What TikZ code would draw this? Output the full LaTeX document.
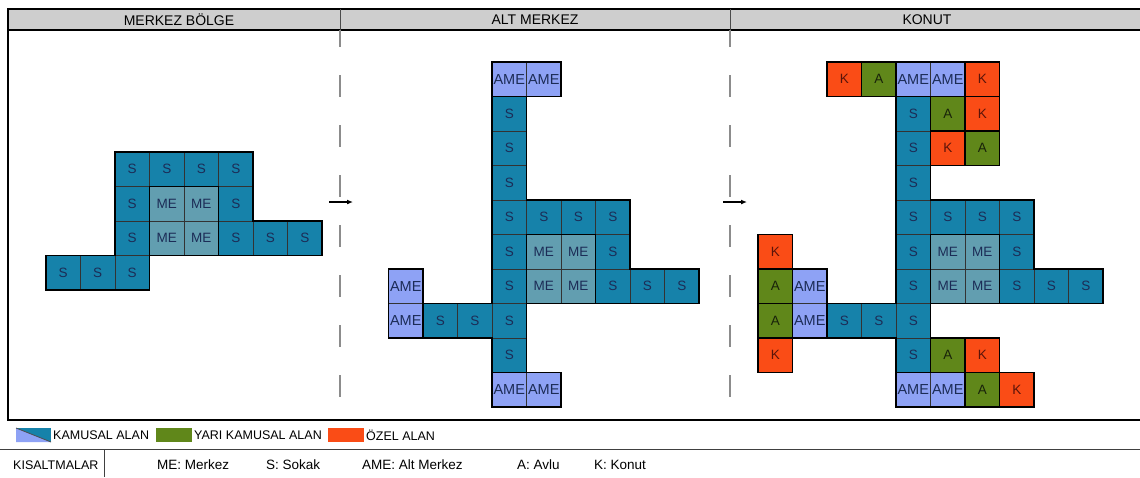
\documentclass[tikz,border=0pt]{standalone}
\usepackage{fontspec}
\setmainfont{Liberation Sans}
\setsansfont{Liberation Sans}
\usetikzlibrary{arrows.meta}
\definecolor{colS}{RGB}{22,130,170}
\definecolor{colME}{RGB}{98,158,176}
\definecolor{colAME}{RGB}{142,162,245}
\definecolor{colK}{RGB}{250,76,22}
\definecolor{colA}{RGB}{96,135,26}
\definecolor{hdrgray}{RGB}{206,206,206}
\definecolor{celltxt}{RGB}{28,44,86}
\definecolor{divgray}{RGB}{140,140,140}
\begin{document}
\begin{tikzpicture}[x=1pt,y=-1pt,
  cellbase/.style={draw=black!80, line width=0.5pt, minimum width=34.5pt, minimum height=34.5pt,
    inner sep=0pt, outer sep=0pt, anchor=center, text=celltxt, font=\fontsize{13.5}{14}\selectfont},
  cS/.style={cellbase, fill=colS},
  cME/.style={cellbase, fill=colME},
  cAME/.style={cellbase, fill=colAME, font=\fontsize{14.5}{15}\selectfont},
  cK/.style={cellbase, fill=colK, line width=1.6pt, draw=black, text={rgb,255:red,90;green,20;blue,10}},
  cA/.style={cellbase, fill=colA, line width=1.6pt, draw=black, text={rgb,255:red,25;green,35;blue,10}},
  outl/.style={draw=black, line width=1.8pt, line join=miter},
  hdrtxt/.style={font=\fontsize{14}{15}\selectfont, inner sep=0pt},
  legtxt/.style={font=\fontsize{12.5}{13}\selectfont, inner sep=0pt, anchor=west},
  abtxt/.style={font=\fontsize{13.5}{14}\selectfont, inner sep=0pt, anchor=west},
  divline/.style={draw=divgray, line width=1.2pt, dash pattern=on 22pt off 28pt, dash phase=5pt},
  arr/.style={-{Latex[length=6pt,width=5pt]}, line width=1.2pt, black}
]
\fill[white] (0,0) rectangle (1140,477);
\useasboundingbox (0,0) rectangle (1140,477);

% header band
\fill[hdrgray] (8,9) rectangle (1140,30);
\draw[line width=1.2pt] (8,9) -- (1140,9);
\draw[line width=1.2pt] (8,30) -- (1140,30);
\draw[line width=1.8pt] (8,8.4) -- (8,420);
\draw[line width=1.8pt] (7.1,420) -- (1140,420);
\draw[line width=0.8pt, draw=black!75] (0,449) -- (1140,449);
\draw[line width=0.6pt, draw=black!75] (104,449) -- (104,477);

% dividers
\draw[line width=1pt, draw=black!70] (340,9) -- (340,30);
\draw[line width=1pt, draw=black!70] (730,9) -- (730,30);
\draw[divline] (340,30) -- (340,420);
\draw[divline] (730,30) -- (730,420);

\node[hdrtxt] (h1) at (179,19.5) {MERKEZ BÖLGE};
\node[hdrtxt] (h2) at (535,19.5) {ALT MERKEZ};
\node[hdrtxt] (h3) at (927,19.5) {KONUT};

% arrows
\coordinate (a1s) at (329,202);
\coordinate (a1e) at (353,202);
\coordinate (a2s) at (723,202);
\coordinate (a2e) at (747,202);
\draw[arr] (a1s) -- (a1e);
\draw[arr] (a2s) -- (a2e);

% ---------- MERKEZ BOLGE ----------
\begin{scope}[shift={(115,152)}, x=34.5pt, y=-34.5pt]
  \foreach \r/\c/\t/\l in {0/0/cS/S,0/1/cS/S,0/2/cS/S,0/3/cS/S,
     1/0/cS/S,1/1/cME/ME,1/2/cME/ME,1/3/cS/S,
     2/0/cS/S,2/1/cME/ME,2/2/cME/ME,2/3/cS/S,2/4/cS/S,2/5/cS/S,
     3/-2/cS/S,3/-1/cS/S,3/0/cS/S}
    \node[\t] (L-\r-\c) at (\c+0.5,\r+0.5) {\l};
  \draw[outl] (0,0) -- (4,0) -- (4,2) -- (6,2) -- (6,3) -- (1,3) -- (1,4) -- (-2,4) -- (-2,3) -- (0,3) -- cycle;
  \draw[outl] (1,1) rectangle (3,3);
\end{scope}

% ---------- ALT MERKEZ ----------
\begin{scope}[shift={(492,62)}, x=34.5pt, y=-34.5pt]
  \foreach \r/\c/\t/\l in {0/0/cAME/AME,0/1/cAME/AME,
     1/0/cS/S,2/0/cS/S,3/0/cS/S,
     4/0/cS/S,4/1/cS/S,4/2/cS/S,4/3/cS/S,
     5/0/cS/S,5/1/cME/ME,5/2/cME/ME,5/3/cS/S,
     6/-3/cAME/AME,6/0/cS/S,6/1/cME/ME,6/2/cME/ME,6/3/cS/S,6/4/cS/S,6/5/cS/S,
     7/-3/cAME/AME,7/-2/cS/S,7/-1/cS/S,7/0/cS/S,
     8/0/cS/S,
     9/0/cAME/AME,9/1/cAME/AME}
    \node[\t] (M-\r-\c) at (\c+0.5,\r+0.5) {\l};
  \draw[outl] (0,1) -- (1,1) -- (1,4) -- (4,4) -- (4,6) -- (6,6) -- (6,7) -- (1,7) -- (1,9) -- (0,9) -- (0,8) -- (-2,8) -- (-2,7) -- (0,7) -- cycle;
  \draw[outl] (0,0) rectangle (2,1);
  \draw[outl] (-3,6) rectangle (-2,8);
  \draw[outl] (0,9) rectangle (2,10);
  \draw[outl] (1,5) rectangle (3,7);
\end{scope}

% ---------- KONUT ----------
\begin{scope}[shift={(896,62)}, x=34.5pt, y=-34.5pt]
  \foreach \r/\c/\t/\l in {0/0/cAME/AME,0/1/cAME/AME,
     1/0/cS/S,2/0/cS/S,3/0/cS/S,
     4/0/cS/S,4/1/cS/S,4/2/cS/S,4/3/cS/S,
     5/0/cS/S,5/1/cME/ME,5/2/cME/ME,5/3/cS/S,
     6/-3/cAME/AME,6/0/cS/S,6/1/cME/ME,6/2/cME/ME,6/3/cS/S,6/4/cS/S,6/5/cS/S,
     7/-3/cAME/AME,7/-2/cS/S,7/-1/cS/S,7/0/cS/S,
     8/0/cS/S,
     9/0/cAME/AME,9/1/cAME/AME}
    \node[\t] (R-\r-\c) at (\c+0.5,\r+0.5) {\l};
  \draw[outl] (0,1) -- (1,1) -- (1,4) -- (4,4) -- (4,6) -- (6,6) -- (6,7) -- (1,7) -- (1,9) -- (0,9) -- (0,8) -- (-2,8) -- (-2,7) -- (0,7) -- cycle;
  \draw[outl] (0,0) rectangle (2,1);
  \draw[outl] (-3,6) rectangle (-2,8);
  \draw[outl] (0,9) rectangle (2,10);
  \draw[outl] (1,5) rectangle (3,7);
  \foreach \r/\c/\t/\l in {0/-2/cK/K,0/-1/cA/A,0/2/cK/K,
     1/1/cA/A,1/2/cK/K,
     2/1/cK/K,2/2/cA/A,
     5/-4/cK/K,6/-4/cA/A,7/-4/cA/A,8/-4/cK/K,
     8/1/cA/A,8/2/cK/K,
     9/2/cA/A,9/3/cK/K}
    \node[\t] (R-\r-\c) at (\c+0.5,\r+0.5) {\l};
\end{scope}

% ---------- legend ----------
\fill[colS] (16,428) rectangle (51,442);
\fill[colAME] (16,428) -- (51,442) -- (16,442) -- cycle;
\draw[line width=0.8pt, draw=black!70] (16,428) -- (51,442);
\node[legtxt] (lg1) at (53,435.5) {KAMUSAL ALAN};
\fill[colA] (156,428) rectangle (192,442);
\node[legtxt] (lg2) at (194,435.5) {YARI KAMUSAL ALAN};
\fill[colK] (328,428) rectangle (364,442);
\node[legtxt] (lg3) at (366,435.5) {ÖZEL ALAN};

% ---------- abbreviations ----------
\node[legtxt] (ab0) at (13,465) {KISALTMALAR};
\node[abtxt] (ab1) at (157,465) {ME: Merkez};
\node[abtxt] (ab2) at (266,465) {S: Sokak};
\node[abtxt] (ab3) at (362,465) {AME: Alt Merkez};
\node[abtxt] (ab4) at (517,465) {A: Avlu};
\node[abtxt] (ab5) at (594,465) {K: Konut};
\end{tikzpicture}
\end{document}
